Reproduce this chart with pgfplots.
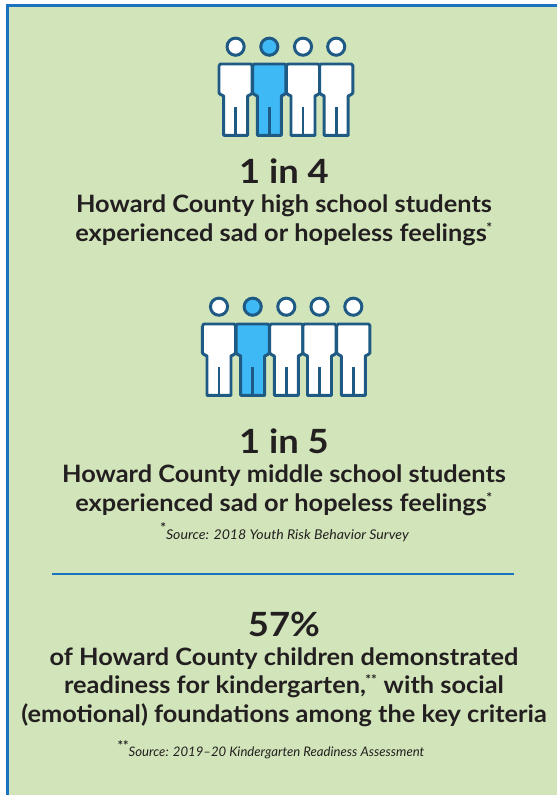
\documentclass[border=0pt]{standalone}
\usepackage{pgfplots}
\pgfplotsset{compat=1.18}
\usepackage{pgfplotstable}
\usepackage{fontspec}
\setmainfont{Lato}
\newfontfamily\bodyfont[FakeStretch=1.06]{Lato}
\newfontfamily\bigfont[FakeStretch=1.09]{Lato}
\newfontfamily\notefont[FakeStretch=1.05]{Lato}
\definecolor{panel}{HTML}{D2E5BA}
\definecolor{frame}{HTML}{1B72BE}
\definecolor{ink}{HTML}{1F5A85}
\definecolor{hilite}{HTML}{3FB9F6}
\definecolor{txt}{HTML}{231F20}
% Outline of one figure, relative to its centre line and the top of its shoulders
\pgfplotstableread{
x y
-16.6 1.5
-15.1 0
15.1 0
16.6 1.5
16.6 29
15 30.5
12 32
12 71.3
-12 71.3
-12 32
-15 30.5
-16.6 29
-16.6 1.5
}\figureoutline
\pgfplotstableread{
x y
0 43
0 71.3
}\figureseam
\newcommand{\figurerow}[4]{% centre x, top y, head y, fill
  \addplot[draw=ink,line width=3pt,fill=#4,line join=round] table[x expr=\thisrow{x}+#1,y expr=\thisrow{y}+#2]{\figureoutline};
  \addplot[draw=ink,line width=3pt] table[x expr=\thisrow{x}+#1,y expr=\thisrow{y}+#2]{\figureseam};
  \addplot[only marks,mark=*,mark size=8.6pt,mark options={draw=ink,fill=#4,line width=3pt}] coordinates {(#1,#3)};
}
\newcommand{\bodyline}[2]{\node[font=\bodyfont\fontsize{24}{24}\selectfont\bfseries,text=txt,anchor=base,inner sep=0pt] at (axis cs:284,#1) {#2};}
\newcommand{\bigline}[2]{\node[font=\bigfont\fontsize{33.5}{33.5}\selectfont\bfseries,text=txt,anchor=base,inner sep=0pt] at (axis cs:284,#1) {#2};}
\newcommand{\mystar}[1]{\raisebox{6.5pt}{\fontsize{13}{13}\selectfont\upshape\bfseries #1}}
\newcommand{\tinystar}[1]{\textsuperscript{\kern-0.5pt\fontsize{13}{13}\selectfont #1}}
\begin{document}
\begin{tikzpicture}
\begin{axis}[
  x=1bp,y=-1bp,scale only axis,
  xmin=0,xmax=557,ymin=0,ymax=795,
  hide axis,clip=true]
% panel
\addplot[fill=panel,draw=none] coordinates {(7.4,795) (7.4,5.4) (557,5.4) (557,795)};
\addplot[draw=frame,line width=2.8pt] coordinates {(7.4,795) (7.4,5.4) (557,5.4)};
% first group: one in four
\figurerow{235.6}{64}{46.7}{white}
\figurerow{303}{64}{46.7}{white}
\figurerow{336.2}{64}{46.7}{white}
\figurerow{269.3}{64}{46.7}{hilite}
% second group: one in five
\figurerow{219}{324}{306.7}{white}
\figurerow{286.3}{324}{306.7}{white}
\figurerow{319.5}{324}{306.7}{white}
\figurerow{353.3}{324}{306.7}{white}
\figurerow{252.7}{324}{306.7}{hilite}
% divider
\addplot[draw=frame,line width=1.5pt] coordinates {(52,574) (514,574)};
\bigline{183}{1 in 4}
\bodyline{212}{Howard County high school students}
\bodyline{241}{experienced sad or hopeless feelings\tinystar{*}}
\bigline{453}{1 in 5}
\bodyline{482}{Howard County middle school students}
\bodyline{511}{experienced sad or hopeless feelings\tinystar{*}}
\bigline{636}{57\%}
\bodyline{665}{of Howard County children demonstrated}
\bodyline{693.5}{readiness for kindergarten,\tinystar{**} with social}
\bodyline{722}{(emotional) foundations among the key criteria}
\node[font=\notefont\fontsize{13.5}{13.5}\selectfont\itshape,text=txt,anchor=base,inner sep=0pt] at (axis cs:284.5,539) {\mystar{*}Source: 2018 Youth Risk Behavior Survey};
\node[font=\fontsize{13.2}{13.2}\selectfont\itshape,text=txt,anchor=base,inner sep=0pt] at (axis cs:271,756.5) {\mystar{**}Source: 2019–20 Kindergarten Readiness Assessment};
\end{axis}
\pgfresetboundingbox
\useasboundingbox (current axis.south west) rectangle (current axis.north east);
\end{tikzpicture}
\end{document}
